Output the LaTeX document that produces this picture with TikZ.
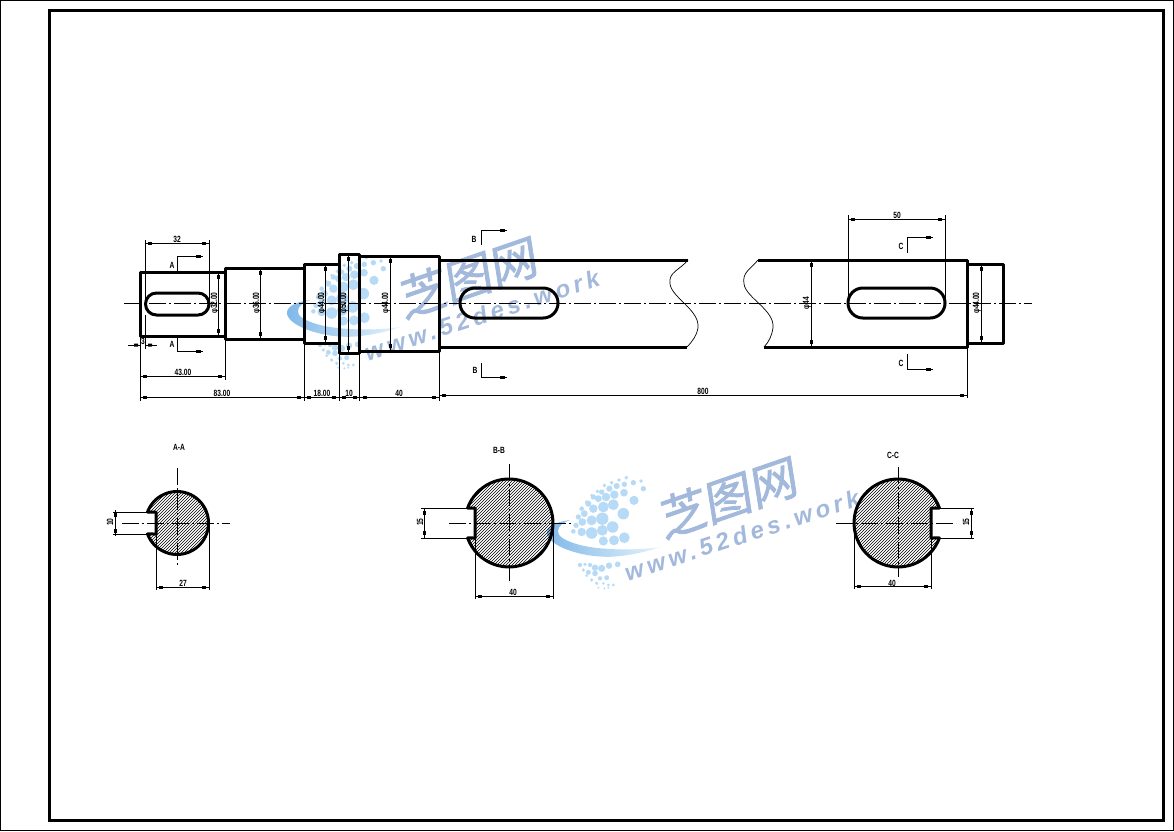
\documentclass[tikz,border=0pt]{standalone}
\usepackage{fontspec}
\setmainfont{Liberation Sans}
\newfontfamily\cjkwm[FakeBold=1.6]{Noto Sans CJK SC}
\newfontfamily\wmfont[LetterSpace=17]{Liberation Sans}
\usetikzlibrary{calc}
\definecolor{wmblue}{HTML}{A3B9DC}
\definecolor{wmdot}{HTML}{B7DBF6}
\definecolor{swooshA}{HTML}{7FB8E8}
\definecolor{swooshM}{HTML}{A9D3F3}
\definecolor{swooshB}{HTML}{E6F3FC}
\tikzset{
  framel/.style={line width=3pt},
  thickl/.style={line width=3pt,line join=round},
  thinl/.style={line width=0.9pt},
  waveln/.style={line width=0.7pt},
  centerl/.style={line width=0.9pt,dash pattern=on 17pt off 3pt on 2pt off 3pt},
  dimtext/.style={font=\bfseries\fontsize{9}{9}\selectfont,inner sep=0pt},
  hatchl/.style={line width=0.55pt}
}
\newcommand\dt[1]{\scalebox{.74}[1]{#1}}
\newcommand\hdim[3]{%
  \draw[thinl] (#1,#3) -- (#2,#3);
  \fill ({#1+3},{#3-1.5}) rectangle ({#1+7},{#3+1.5});
  \fill ({#2-7},{#3-1.5}) rectangle ({#2-3},{#3+1.5});}
\newcommand\vdim[3]{%
  \draw[thinl] (#1,#2) -- (#1,#3);
  \fill ({#1-1.5},{#2+3}) rectangle ({#1+1.5},{#2+7});
  \fill ({#1-1.5},{#3-7}) rectangle ({#1+1.5},{#3-3});}
\newcommand\secmark[3]{%
  \draw[thinl] (#1,#2) -- (#1,#3) -- ({#1+26},#3);
  \fill ({#1+19},{#3-1.5}) rectangle ({#1+24},{#3+1.5});}
\newcommand\watermark[1]{%
\begin{scope}[shift={#1}]
  \foreach \X/\Y/\R in {184/17/5,205/32/7,228/27/5,235/50/7,178/37/7,177/62/10,207/85/12,
    162/24/5,155/42/8,148/68/11,145/98/14,175/125/15,
    140/32/5,133/50/8,123/75/11,115/105/14,112/140/16,143/165/15,178/197/14,
    118/40/5,110/60/7,100/80/9,85/110/11,80/145/13,80/183/15,112/175/14,147/205/13,115/207/12,
    97/58/5,85/75/7,70/95/8,58/125/9,52/150/10,50/180/11,
    80/70/4,65/90/5,50/110/6,40/135/7,33/160/7,25/178/6}{
    \fill[wmdot] ({305+\X/3},{252+\Y/3}) circle[radius=\R/2.6];
  }
  \foreach \X/\Y/\R in {105/150/6,120/148/5,135/150/6,150/158/9,170/160/10,192/152/9,218/148/8,
    115/165/5,130/172/7,150/175/8,165/190/6,185/188/7,
    125/182/4,140/195/5,155/205/5,175/205/4,190/210/4,205/210/4,160/218/3,178/220/3,190/218/3}{
    \fill[wmdot] ({285+\X/3},{295+\Y/3}) circle[radius=\R/2.8];
  }
  \shade[left color=swooshA,middle color=swooshM,right color=swooshB]
    (310,300) .. controls (295,302) and (286,307) .. (287,314)
    .. controls (290,328) and (330,340) .. (360,336)
    .. controls (378,334) and (392,330) .. (400,327)
    .. controls (375,331) and (340,330) .. (320,325)
    .. controls (305,321) and (297,316) .. (298,311)
    .. controls (298,306) and (304,302) .. (310,300) -- cycle;
  \node[text=wmblue,cm={.9455,.3256,-.156,.988,(0,0)},inner sep=0pt,font=\cjkwm\fontsize{48}{48}\selectfont] at (469,277) {芝图网};
  \node[text=wmblue,rotate=18,inner sep=0pt,font=\wmfont\bfseries\itshape\fontsize{24}{24}\selectfont] at (482,315) {www.52des.work};
\end{scope}}
\begin{document}
\begin{tikzpicture}[x=1pt,y=-1pt]
\useasboundingbox (0,0) rectangle (1174,831);
\fill[white] (0,0) rectangle (1174,831);
\draw[line width=1pt] (0.5,0.5) rectangle (1173.5,830.5);
\watermark{(0,0)}
\watermark{(260,220)}
\draw[framel] (49,10.5) rectangle (1163,820);

% shaft
\draw[thickl] (140,272) rectangle (225,336);
\draw[thickl] (225,268) rectangle (304,339);
\draw[thickl] (304,264) rectangle (339,343);
\draw[thickl] (339,254) rectangle (359.5,353);
\draw[thickl] (359.5,256) rectangle (439,351);
\draw[thickl] (439,260) -- (688,260);
\draw[thickl] (439,347.5) -- (687,347.5);
\draw[thickl] (758,260) -- (967,260) -- (967,347.5) -- (764,347.5);
\draw[thickl] (967,264) rectangle (1003,343);
\draw[waveln] (688,260) .. controls (680,270) and (668,272) .. (670,284) .. controls (672,298) and (700,310) .. (698,328) .. controls (697,335) and (692,342) .. (687,347);
\draw[waveln] (758,260) .. controls (750,270) and (742,272) .. (744,284) .. controls (746,298) and (775,310) .. (773,328) .. controls (772,335) and (769,342) .. (764,347);
% keyways
\draw[thickl,rounded corners=10.9pt] (145.5,293) rectangle (209,315);
\draw[thickl,rounded corners=14.9pt] (460,288) rectangle (558,318);
\draw[thickl,rounded corners=14.9pt] (848,288) rectangle (945,318);
% centre line
\draw[centerl] (124,303) -- (1032,303);

% extension lines
\draw[thinl] (145,240) -- (145,303) (209,240) -- (209,303);
\draw[thinl] (145,315) -- (145,349) (140,336) -- (140,401);
\draw[thinl] (225,339) -- (225,380);
\draw[thinl] (304,343) -- (304,401) (339,353) -- (339,401) (359.5,353) -- (359.5,401) (439,351) -- (439,401);
\draw[thinl] (967,347) -- (967,398);
\draw[thinl] (848,215) -- (848,303) (945,215) -- (945,303);

% dimensions of the view
\hdim{145}{209}{243}
\node[dimtext] (d32) at (177,239) {\dt{32}};
\vdim{218}{272}{336}
\node[dimtext,rotate=90] (dA) at (215,303) {\dt{φ32.00}};
\vdim{260}{268}{339}
\node[dimtext,rotate=90] (dB) at (257,303) {\dt{φ36.00}};
\vdim{325}{264}{343}
\node[dimtext,rotate=90] (dC) at (322,303) {\dt{φ44.00}};
\vdim{348}{254}{353}
\node[dimtext,rotate=90] (dD) at (344,303) {\dt{φ50.00}};
\vdim{390}{256}{351}
\node[dimtext,rotate=90] (dE) at (386,303) {\dt{φ44.00}};
\vdim{811}{260}{347}
\node[dimtext,rotate=90] (dF) at (807,303) {\dt{φ44}};
\vdim{981}{264}{343}
\node[dimtext,rotate=90] (dG) at (977,303) {\dt{φ44.00}};
\draw[thinl] (128,345) -- (140,345) (145,345) -- (157,345);
\fill (134,343.5) rectangle (138,346.5) (148,343.5) rectangle (152,346.5);
\node[dimtext] (d3) at (143,341) {\dt{3}};
\hdim{140}{225}{376}
\node[dimtext] (d43) at (183,372) {\dt{43.00}};
\hdim{140}{304}{397}
\node[dimtext] (d83) at (222,393) {\dt{83.00}};
\hdim{304}{339}{397}
\node[dimtext] (d18) at (322,393) {\dt{18.00}};
\hdim{339}{359.5}{397}
\node[dimtext] (d10) at (349,393) {\dt{10}};
\hdim{359.5}{439}{397}
\node[dimtext] (d40) at (399,393) {\dt{40}};
\hdim{439}{967}{395.5}
\node[dimtext] (d800) at (703,391) {\dt{800}};
\hdim{848}{945}{219}
\node[dimtext] (d50) at (897,215) {\dt{50}};

% section marks
\secmark{177}{272}{256}
\secmark{177}{336}{351}
\secmark{481}{245}{230}
\secmark{481}{363}{377}
\secmark{907}{253}{237}
\secmark{907}{354}{369}
\node[dimtext] (sa1) at (172,265) {\dt{A}};
\node[dimtext] (sa2) at (172,344) {\dt{A}};
\node[dimtext] (sb1) at (474,239) {\dt{B}};
\node[dimtext] (sb2) at (475,370) {\dt{B}};
\node[dimtext] (sc1) at (901,246) {\dt{C}};
\node[dimtext] (sc2) at (901,363) {\dt{C}};

% section A-A
\newcommand\secA{(147.5,512) arc (200.4:519.6:31.5) -- (156,534) -- (156,512) -- cycle}
\begin{scope}
  \clip \secA;
  \foreach \k in {0,3,...,100}{\draw[hatchl] ({60+\k},590) -- ({60+\k+110},480);}
\end{scope}
\draw[thickl] \secA;
\draw[centerl] (177,468) -- (177,565);
\draw[centerl] (122,523) -- (230,523);
\draw[thinl] (147.5,512) -- (113,512) (147.5,534) -- (113,534);
\vdim{115}{510}{536}
\node[dimtext,rotate=90] (a10) at (110,522) {\dt{10}};
\draw[thinl] (156,534) -- (156,590) (209,523) -- (209,590);
\hdim{156}{209}{587}
\node[dimtext] (a27) at (183,583) {\dt{27}};
\node[dimtext] (aT) at (179,447) {\dt{A-A}};

% section B-B
\newcommand\secB{(467.6,508) arc (199.9:520.1:44) -- (475,538) -- (475,508) -- cycle}
\begin{scope}
  \clip \secB;
  \foreach \k in {0,3,...,140}{\draw[hatchl] ({350+\k},610) -- ({350+\k+140},470);}
\end{scope}
\draw[thickl] \secB;
\draw[centerl] (509,464) -- (509,583);
\draw[centerl] (449,523) -- (573,523);
\draw[thinl] (467.6,508) -- (421,508) (467.6,538) -- (421,538);
\vdim{424}{508}{538}
\node[dimtext,rotate=90] (b15) at (420,522) {\dt{15}};
\draw[thinl] (475,538) -- (475,599) (553,523) -- (553,599);
\hdim{475}{553}{596}
\node[dimtext] (b40) at (513,592) {\dt{40}};
\node[dimtext] (bT) at (499,450) {\dt{B-B}};

% section C-C
\newcommand\secC{(939.4,508) arc (340.1:19.9:44) -- (931,538) -- (931,508) -- cycle}
\begin{scope}
  \clip \secC;
  \foreach \k in {0,3,...,140}{\draw[hatchl] ({739+\k},610) -- ({739+\k+140},470);}
\end{scope}
\draw[thickl] \secC;
\draw[centerl] (898,467) -- (898,577);
\draw[centerl] (836,523) -- (956,523);
\draw[thinl] (939.4,508) -- (974,508) (939.4,538) -- (974,538);
\vdim{971}{508}{538}
\node[dimtext,rotate=90] (c15) at (966,522) {\dt{15}};
\draw[thinl] (854,523) -- (854,589) (931,538) -- (931,589);
\hdim{854}{931}{586}
\node[dimtext] (c40) at (892,583) {\dt{40}};
\node[dimtext] (cT) at (893,455) {\dt{C-C}};
\end{tikzpicture}
\end{document}
